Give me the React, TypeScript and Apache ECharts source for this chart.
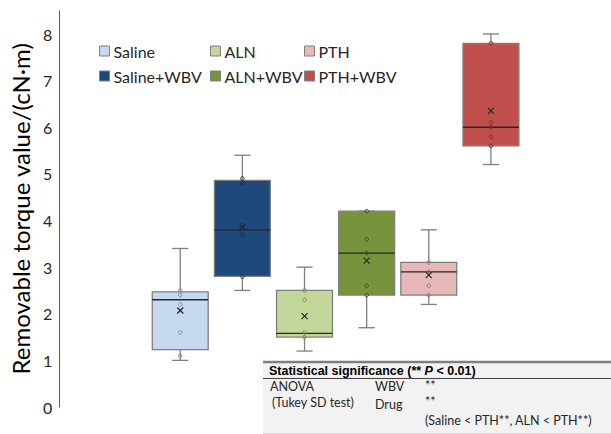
import React, { useEffect, useRef } from "react";
import * as echarts from "echarts";

const categories = ["Saline", "Saline+WBV", "ALN", "ALN+WBV", "PTH", "PTH+WBV"];
// [min, Q1, median, Q3, max]
const boxStats = [
  [1.0, 1.23, 2.3, 2.47, 3.4],
  [2.5, 2.8, 3.8, 4.86, 5.4],
  [1.2, 1.5, 1.58, 2.5, 3.0],
  [1.7, 2.4, 3.3, 4.2, 4.2],
  [2.2, 2.4, 2.9, 3.1, 3.8],
  [5.2, 5.6, 6.0, 7.8, 8.0],
];
const means = [2.07, 3.85, 1.95, 3.14, 2.83, 6.35];
const points = [
  [2.5, 2.4, 2.2, 1.6, 1.1],
  [4.9, 4.8, 3.9, 3.7, 2.8],
  [2.5, 2.3, 1.6, 1.5],
  [4.2, 3.6, 3.3, 2.6, 2.4],
  [3.1, 2.9, 2.6, 2.4],
  [7.8, 6.1, 6.0, 5.8, 5.6],
];
const fillColors = ["#c6d9f1", "#1f497d", "#c4d79b", "#77933c", "#e6b9b8", "#c0504d"];
const pointColors = ["#7f8ea3", "#14304f", "#7f8c63", "#44561f", "#9a7473", "#7a2e2c"];
const yTicks = [0, 1, 2, 3, 4, 5, 6, 7, 8];

const FONT = "Lato, 'Open Sans', sans-serif";

export default function App() {
  const ref = useRef<HTMLDivElement>(null);
  useEffect(() => {
    if (!ref.current) return;
    const chart = echarts.init(ref.current, undefined, { renderer: "svg" });

    const series = categories.map((name, i) => ({
      type: "custom",
      name,
      itemStyle: { color: fillColors[i] },
      encode: { x: 0, y: [1, 2, 3, 4, 5] },
      data: [[i, ...boxStats[i], means[i]]],
      renderItem: (params: any, api: any) => {
        const x = api.value(0);
        const [mn, q1, md, q3, mx] = [1, 2, 3, 4, 5].map((d) => api.value(d));
        const mean = api.value(6);
        const band = api.size([1, 0])[0];
        const bw = band * 0.9;
        const cw = band * 0.26;
        const pMin = api.coord([x, mn]);
        const pQ1 = api.coord([x, q1]);
        const pMd = api.coord([x, md]);
        const pQ3 = api.coord([x, q3]);
        const pMx = api.coord([x, mx]);
        const pMean = api.coord([x, mean]);
        const cx = pMd[0];
        const whisk = { stroke: "#7f7f7f", lineWidth: 1.3 };
        const children: any[] = [
          { type: "line", shape: { x1: cx, y1: pMx[1], x2: cx, y2: pQ3[1] }, style: whisk },
          { type: "line", shape: { x1: cx - cw / 2, y1: pMx[1], x2: cx + cw / 2, y2: pMx[1] }, style: whisk },
          { type: "line", shape: { x1: cx, y1: pMin[1], x2: cx, y2: pQ1[1] }, style: whisk },
          { type: "line", shape: { x1: cx - cw / 2, y1: pMin[1], x2: cx + cw / 2, y2: pMin[1] }, style: whisk },
          {
            type: "rect",
            shape: { x: cx - bw / 2, y: pQ3[1], width: bw, height: pQ1[1] - pQ3[1] },
            style: { fill: fillColors[i], stroke: "#7f7f7f", lineWidth: 1.3 },
          },
          {
            type: "line",
            shape: { x1: cx - bw / 2, y1: pMd[1], x2: cx + bw / 2, y2: pMd[1] },
            style: { stroke: "#262626", lineWidth: 1.3 },
          },
        ];
        points[i].forEach((v) => {
          const p = api.coord([x, v]);
          children.push({
            type: "circle",
            shape: { cx: p[0], cy: p[1], r: 1.8 },
            style: { fill: "none", stroke: pointColors[i], lineWidth: 1 },
          });
        });
        const s = 3;
        children.push(
          { type: "line", shape: { x1: pMean[0] - s, y1: pMean[1] - s, x2: pMean[0] + s, y2: pMean[1] + s }, style: { stroke: "#262626", lineWidth: 1.2 } },
          { type: "line", shape: { x1: pMean[0] - s, y1: pMean[1] + s, x2: pMean[0] + s, y2: pMean[1] - s }, style: { stroke: "#262626", lineWidth: 1.2 } }
        );
        return { type: "group", children };
      },
    }));

    const legendBase = (left: number, names: string[]) => ({
      orient: "vertical",
      left,
      top: 37,
      itemGap: 7,
      itemWidth: 10,
      itemHeight: 10,
      icon: "rect",
      selectedMode: false,
      textStyle: { fontFamily: FONT, fontSize: 16, color: "#262626", lineHeight: 18, padding: [0, 0, 0, -1] },
      data: names.map((n) => ({
        name: n,
        itemStyle: { color: fillColors[categories.indexOf(n)], borderColor: "#7f7f7f", borderWidth: 1 },
      })),
    });

    const tx = (x: number, y: number, text: string, extra: any = {}) => ({
      type: "text",
      x,
      y,
      style: { text, fontFamily: FONT, fontSize: 12.5, fill: "#262626", textVerticalAlign: "middle", ...extra },
    });

    chart.setOption({
      animation: false,
      grid: { left: 147, right: 89, top: 10.7, bottom: 27 },
      xAxis: {
        type: "category",
        data: categories,
        boundaryGap: true,
        axisLine: { show: false },
        axisTick: { show: false },
        axisLabel: { show: false },
        splitLine: { show: false },
      },
      yAxis: {
        type: "value",
        min: 0,
        max: 8.5,
        interval: 1,
        offset: 90,
        name: "Removable torque value/(cN·m)",
        nameLocation: "middle",
        nameGap: 27,
        nameTextStyle: { fontFamily: FONT, fontSize: 24, color: "#000" },
        axisLine: { show: true, lineStyle: { color: "#595959", width: 1 } },
        axisTick: { show: false },
        splitLine: { show: false },
        axisLabel: {
          margin: 7,
          fontFamily: FONT,
          fontSize: 16,
          color: "#262626",
          formatter: (v: number) => (yTicks.includes(v) ? String(v) : ""),
        },
      },
      legend: [
        legendBase(94, ["Saline", "Saline+WBV"]),
        legendBase(205, ["ALN", "ALN+WBV"]),
        legendBase(299, ["PTH", "PTH+WBV"]),
      ],
      series,
      graphic: [
        { type: "rect", shape: { x: 263, y: 362, width: 348, height: 72 }, style: { fill: "#f2f2f2" }, z: 10 },
        { type: "line", shape: { x1: 263, y1: 362, x2: 611, y2: 362 }, style: { stroke: "#7f7f7f", lineWidth: 2.5 }, z: 11 },
        { type: "line", shape: { x1: 263, y1: 378.5, x2: 611, y2: 378.5 }, style: { stroke: "#404040", lineWidth: 1 }, z: 11 },
        { type: "line", shape: { x1: 263, y1: 433.5, x2: 611, y2: 433.5 }, style: { stroke: "#d9d9d9", lineWidth: 1 }, z: 11 },
        {
          type: "text",
          x: 269,
          y: 371,
          z: 12,
          style: {
            text: "{b|Statistical significance (** }{i|P}{b| < 0.01)}",
            textVerticalAlign: "middle",
            rich: {
              b: { fontFamily: "'Liberation Sans Narrow', 'Liberation Sans', sans-serif", fontWeight: "bold", fontSize: 12.5, fill: "#000" },
              i: { fontFamily: "'Liberation Sans Narrow', 'Liberation Sans', sans-serif", fontWeight: "bold", fontStyle: "italic", fontSize: 12.5, fill: "#000" },
            },
          },
        },
        { ...tx(270, 386, "ANOVA"), z: 12 },
        { ...tx(375, 386, "WBV"), z: 12 },
        { ...tx(425, 385, "**"), z: 12 },
        { ...tx(272, 402, "(Tukey SD test)"), z: 12 },
        { ...tx(375, 404, "Drug"), z: 12 },
        { ...tx(425, 401, "**"), z: 12 },
        { ...tx(425, 420, "(Saline < PTH**, ALN < PTH**)"), z: 12 },
      ],
    });
    return () => chart.dispose();
  }, []);
  return <div ref={ref} style={{ width: 611, height: 434, position: "absolute", left: 0, top: 0 }} />;
}
